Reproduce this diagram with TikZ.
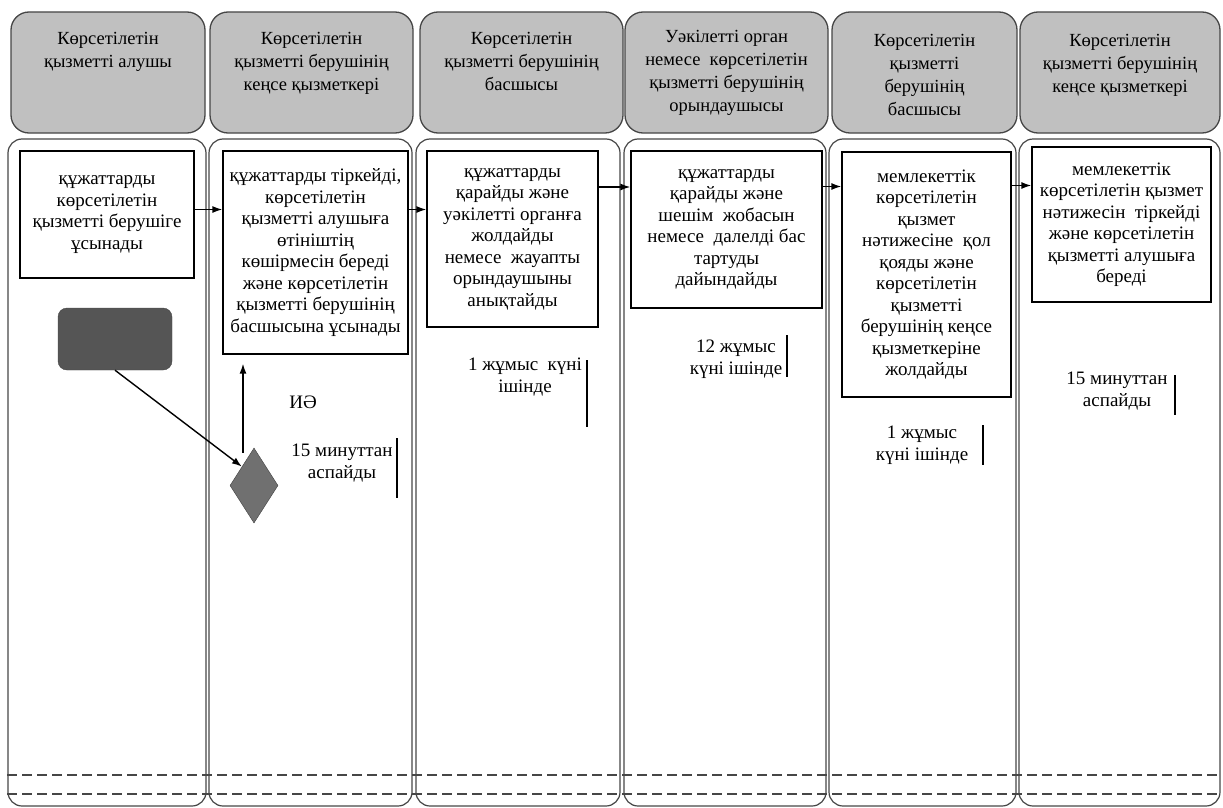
\documentclass[tikz,border=0pt]{standalone}
\usepackage{fontspec}
\setmainfont{Liberation Serif}
\usetikzlibrary{shapes.geometric,arrows.meta,positioning}
\definecolor{headgray}{RGB}{192,192,192}
\definecolor{linegray}{RGB}{70,70,70}
\definecolor{darkbox}{RGB}{85,85,85}
\definecolor{diagray}{RGB}{112,112,112}

\begin{document}
\begin{tikzpicture}[x=1pt, y=-1pt,
  every node/.style={font=\fontsize{19}{21.5}\selectfont},
  head/.style={draw=linegray, fill=headgray, rounded corners=18pt, line width=1.3pt, inner sep=0pt, minimum height=121pt},
  htxt/.style={align=center, inner sep=0pt, font=\fontsize{18.5}{23}\selectfont},
  lane/.style={draw=linegray, rounded corners=14pt, line width=1.2pt, inner sep=0pt, minimum height=667pt},
  stepbox/.style={draw, line width=1.3pt, align=center, inner sep=0pt},
  timetxt/.style={align=center, inner sep=0pt},
  dashline/.style={draw=linegray, line width=1.3pt, dash pattern=on 10pt off 5pt},
  arr/.style={-{Latex[length=10pt,width=7pt]}, line width=1.4pt}
]
\useasboundingbox (0,0) rectangle (1223,808);

\node[head, minimum width=194pt] (h1) at (108,72.5) {};
\node[head, minimum width=203pt] (h2) at (311.5,72.5) {};
\node[head, minimum width=203pt] (h3) at (521.5,72.5) {};
\node[head, minimum width=203pt] (h4) at (726.5,72.5) {};
\node[head, minimum width=185pt] (h5) at (924.5,72.5) {};
\node[head, minimum width=200pt] (h6) at (1120,72.5) {};

\node[htxt, below=21pt of h1.north] (h1t) {Көрсетілетін\\қызметті алушы};
\node[htxt, below=21pt of h2.north] (h2t) {Көрсетілетін\\қызметті берушінің\\кеңсе қызметкері};
\node[htxt, below=21pt of h3.north] (h3t) {Көрсетілетін\\қызметті берушінің\\басшысы};
\node[htxt, below=19pt of h4.north] (h4t) {Уәкілетті орган\\немесе\ \ көрсетілетін\\қызметті берушінің\\орындаушысы};
\node[htxt, below=23pt of h5.north] (h5t) {Көрсетілетін\\қызметті\\берушінің\\басшысы};
\node[htxt, below=23pt of h6.north] (h6t) {Көрсетілетін\\қызметті берушінің\\кеңсе қызметкері};

\node[lane, minimum width=198pt] (l1) at (107,472.5) {};
\node[lane, minimum width=203pt] (l2) at (310.5,472.5) {};
\node[lane, minimum width=204pt] (l3) at (518,472.5) {};
\node[lane, minimum width=202pt] (l4) at (725,472.5) {};
\node[lane, minimum width=187pt] (l5) at (922.5,472.5) {};
\node[lane, minimum width=201pt] (l6) at (1119.5,472.5) {};

\draw[dashline] (l1.west |- 0,775) -- (l6.east |- 0,775);
\draw[dashline] (l1.west |- 0,794) -- (l6.east |- 0,794);

\node[stepbox, minimum width=174pt, minimum height=127pt] (b1) at (107,214.5) {құжаттарды\\көрсетілетін\\қызметті берушіге\\ұсынады};
\node[stepbox, minimum width=185pt, minimum height=203pt] (b2) at (315.5,252.5) {құжаттарды тіркейді,\\көрсетілетін\\қызметті алушыға\\өтініштің\\көшірмесін береді\\және көрсетілетін\\қызметті берушінің\\басшысына ұсынады};
\node[stepbox, minimum width=171pt, minimum height=176pt] (b3) at (512.5,239) {құжаттарды\\қарайды және\\уәкілетті органға\\жолдайды\\немесе\ \ жауапты\\орындаушыны\\анықтайды};
\node[stepbox, minimum width=191pt, minimum height=157pt] (b4) at (726.5,229.5) {құжаттарды\\қарайды және\\шешім\ \ жобасын\\немесе\ \ далелді бас\\тартуды\\дайындайды};
\node[stepbox, minimum width=169pt, minimum height=245pt] (b5) at (926.5,274.5) {мемлекеттік\\көрсетілетін\\қызмет\\нәтижесіне\ \ қол\\қояды және\\көрсетілетін\\қызметті\\берушінің кеңсе\\қызметкеріне\\жолдайды};
\node[stepbox, minimum width=179pt, minimum height=155pt] (b6) at (1121.5,224.5) {мемлекеттік\\көрсетілетін қызмет\\нәтижесін\ \ тіркейді\\және көрсетілетін\\қызметті алушыға\\береді};

\node[draw=linegray, fill=darkbox, rounded corners=9pt, minimum width=114pt, minimum height=62pt] (start) at (115,339) {};
\node[diamond, draw=black!75, fill=diagray, minimum width=48pt, minimum height=75pt, inner sep=0pt] (dec) at (254,485.5) {};
\node (yes) at (303,402) {ИӘ};

\node[timetxt] (t2) at (342,463) {15 минуттан\\аспайды};
\node[timetxt] (t3) at (525,377) {1 жұмыс\ \ күні\\ішінде};
\node[timetxt] (t4) at (736,359) {12 жұмыс\\күні ішінде};
\node[timetxt] (t5) at (922,445) {1 жұмыс\\күні ішінде};
\node[timetxt] (t6) at (1117,391) {15 минуттан\\аспайды};

\draw[line width=1.2pt] (397,438) -- (397,498);
\draw[line width=1.2pt] (587,360) -- (587,427);
\draw[line width=1.2pt] (787,335) -- (787,377);
\draw[line width=1.2pt] (983,425) -- (983,465);
\draw[line width=1.2pt] (1175,375) -- (1175,415);

\draw[arr] ([yshift=5pt]b1.east) -- ([yshift=5pt]b1.east -| b2.west);
\draw[arr] ([yshift=43pt]b2.east) -- ([yshift=43pt]b2.east -| b3.west);
\draw[arr] ([yshift=52pt]b3.east) -- ([yshift=52pt]b3.east -| b4.west);
\draw[arr] ([yshift=43pt]b4.east) -- ([yshift=43pt]b4.east -| b5.west);
\draw[arr] ([yshift=89pt]b5.east) -- ([yshift=89pt]b5.east -| b6.west);
\draw[arr] (start.south) -- (dec.north west);
\draw[arr, shorten >=9pt] ([xshift=-11pt, yshift=-5pt]dec.north) -- ([xshift=-11pt]dec.north |- b2.south);
\end{tikzpicture}
\end{document}
